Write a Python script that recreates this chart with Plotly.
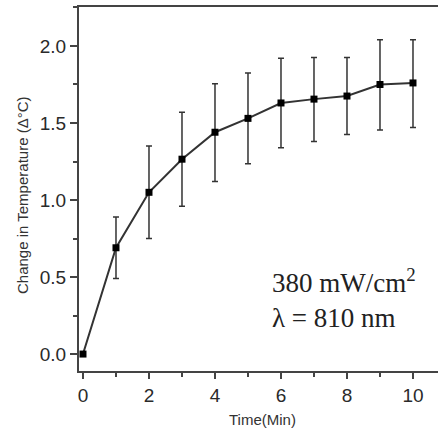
import plotly.graph_objects as go

time_min = [0, 1, 2, 3, 4, 5, 6, 7, 8, 9, 10]
delta_t = [0.0, 0.69, 1.05, 1.265, 1.44, 1.53, 1.63, 1.655, 1.675, 1.75, 1.76]
err_plus = [0.0, 0.20, 0.30, 0.305, 0.315, 0.295, 0.29, 0.27, 0.25, 0.29, 0.28]
err_minus = [0.0, 0.20, 0.30, 0.305, 0.32, 0.295, 0.29, 0.275, 0.25, 0.295, 0.29]

x_ticks = [0, 2, 4, 6, 8, 10]
y_ticks = [0.0, 0.5, 1.0, 1.5, 2.0]
y_tick_labels = ["0.0", "0.5", "1.0", "1.5", "2.0"]

fig = go.Figure()
fig.add_trace(go.Scatter(
    x=time_min, y=delta_t,
    mode="lines+markers",
    line=dict(color="#333333", width=2),
    marker=dict(symbol="square", size=7, color="#000000"),
    error_y=dict(type="data", symmetric=False, array=err_plus, arrayminus=err_minus,
                 color="#333333", thickness=1.5, width=3),
    showlegend=False,
))

sans = "Liberation Sans, Arial, sans-serif"
axis_font = dict(family=sans, size=19, color="#2a2a2a")

fig.update_layout(
    width=438, height=429,
    margin=dict(l=79, r=0, t=7, b=58),
    paper_bgcolor="white", plot_bgcolor="white",
    xaxis=dict(range=[-0.121, 10.758], tickvals=x_ticks, ticks="outside", ticklen=6,
               tickwidth=1.5, tickcolor="#444444", showline=True, linecolor="#444444",
               linewidth=2, mirror=True, showgrid=False, zeroline=False,
               tickfont=axis_font,
               minor=dict(dtick=1, tick0=0, ticks="outside", ticklen=4, tickcolor="#444444", showgrid=False)),
    yaxis=dict(range=[-0.110, 2.253], tickvals=y_ticks, ticktext=y_tick_labels, ticks="outside",
               ticklen=7, tickwidth=1.5, tickcolor="#444444", showline=True, linecolor="#444444",
               linewidth=2, showgrid=False, zeroline=False, tickfont=axis_font,
               minor=dict(dtick=0.25, tick0=0, ticks="outside", ticklen=4, tickcolor="#444444", showgrid=False)),
    annotations=[
        dict(text="Change in Temperature (Δ°C)", xref="paper", yref="paper", x=0, y=0.4835,
             xshift=-57, textangle=-90, showarrow=False, xanchor="center", yanchor="middle",
             font=dict(family="Liberation Sans Narrow, " + sans, size=15, color="#333333")),
        dict(text="Time(Min)", xref="paper", yref="paper", x=0.51, y=-0.132,
             showarrow=False, xanchor="center", yanchor="middle",
             font=dict(family=sans, size=15, color="#333333")),
        dict(text="380 mW/cm<sup>2</sup><br>λ = 810 nm", xref="x", yref="y", x=5.67, y=0.36,
             showarrow=False, xanchor="left", yanchor="middle", align="left",
             font=dict(family="Liberation Serif, Times New Roman, serif", size=27, color="#222222")),
    ],
)

fig.write_html("out.html", config={"displayModeBar": False},
               post_script="document.body.style.margin='0';")
